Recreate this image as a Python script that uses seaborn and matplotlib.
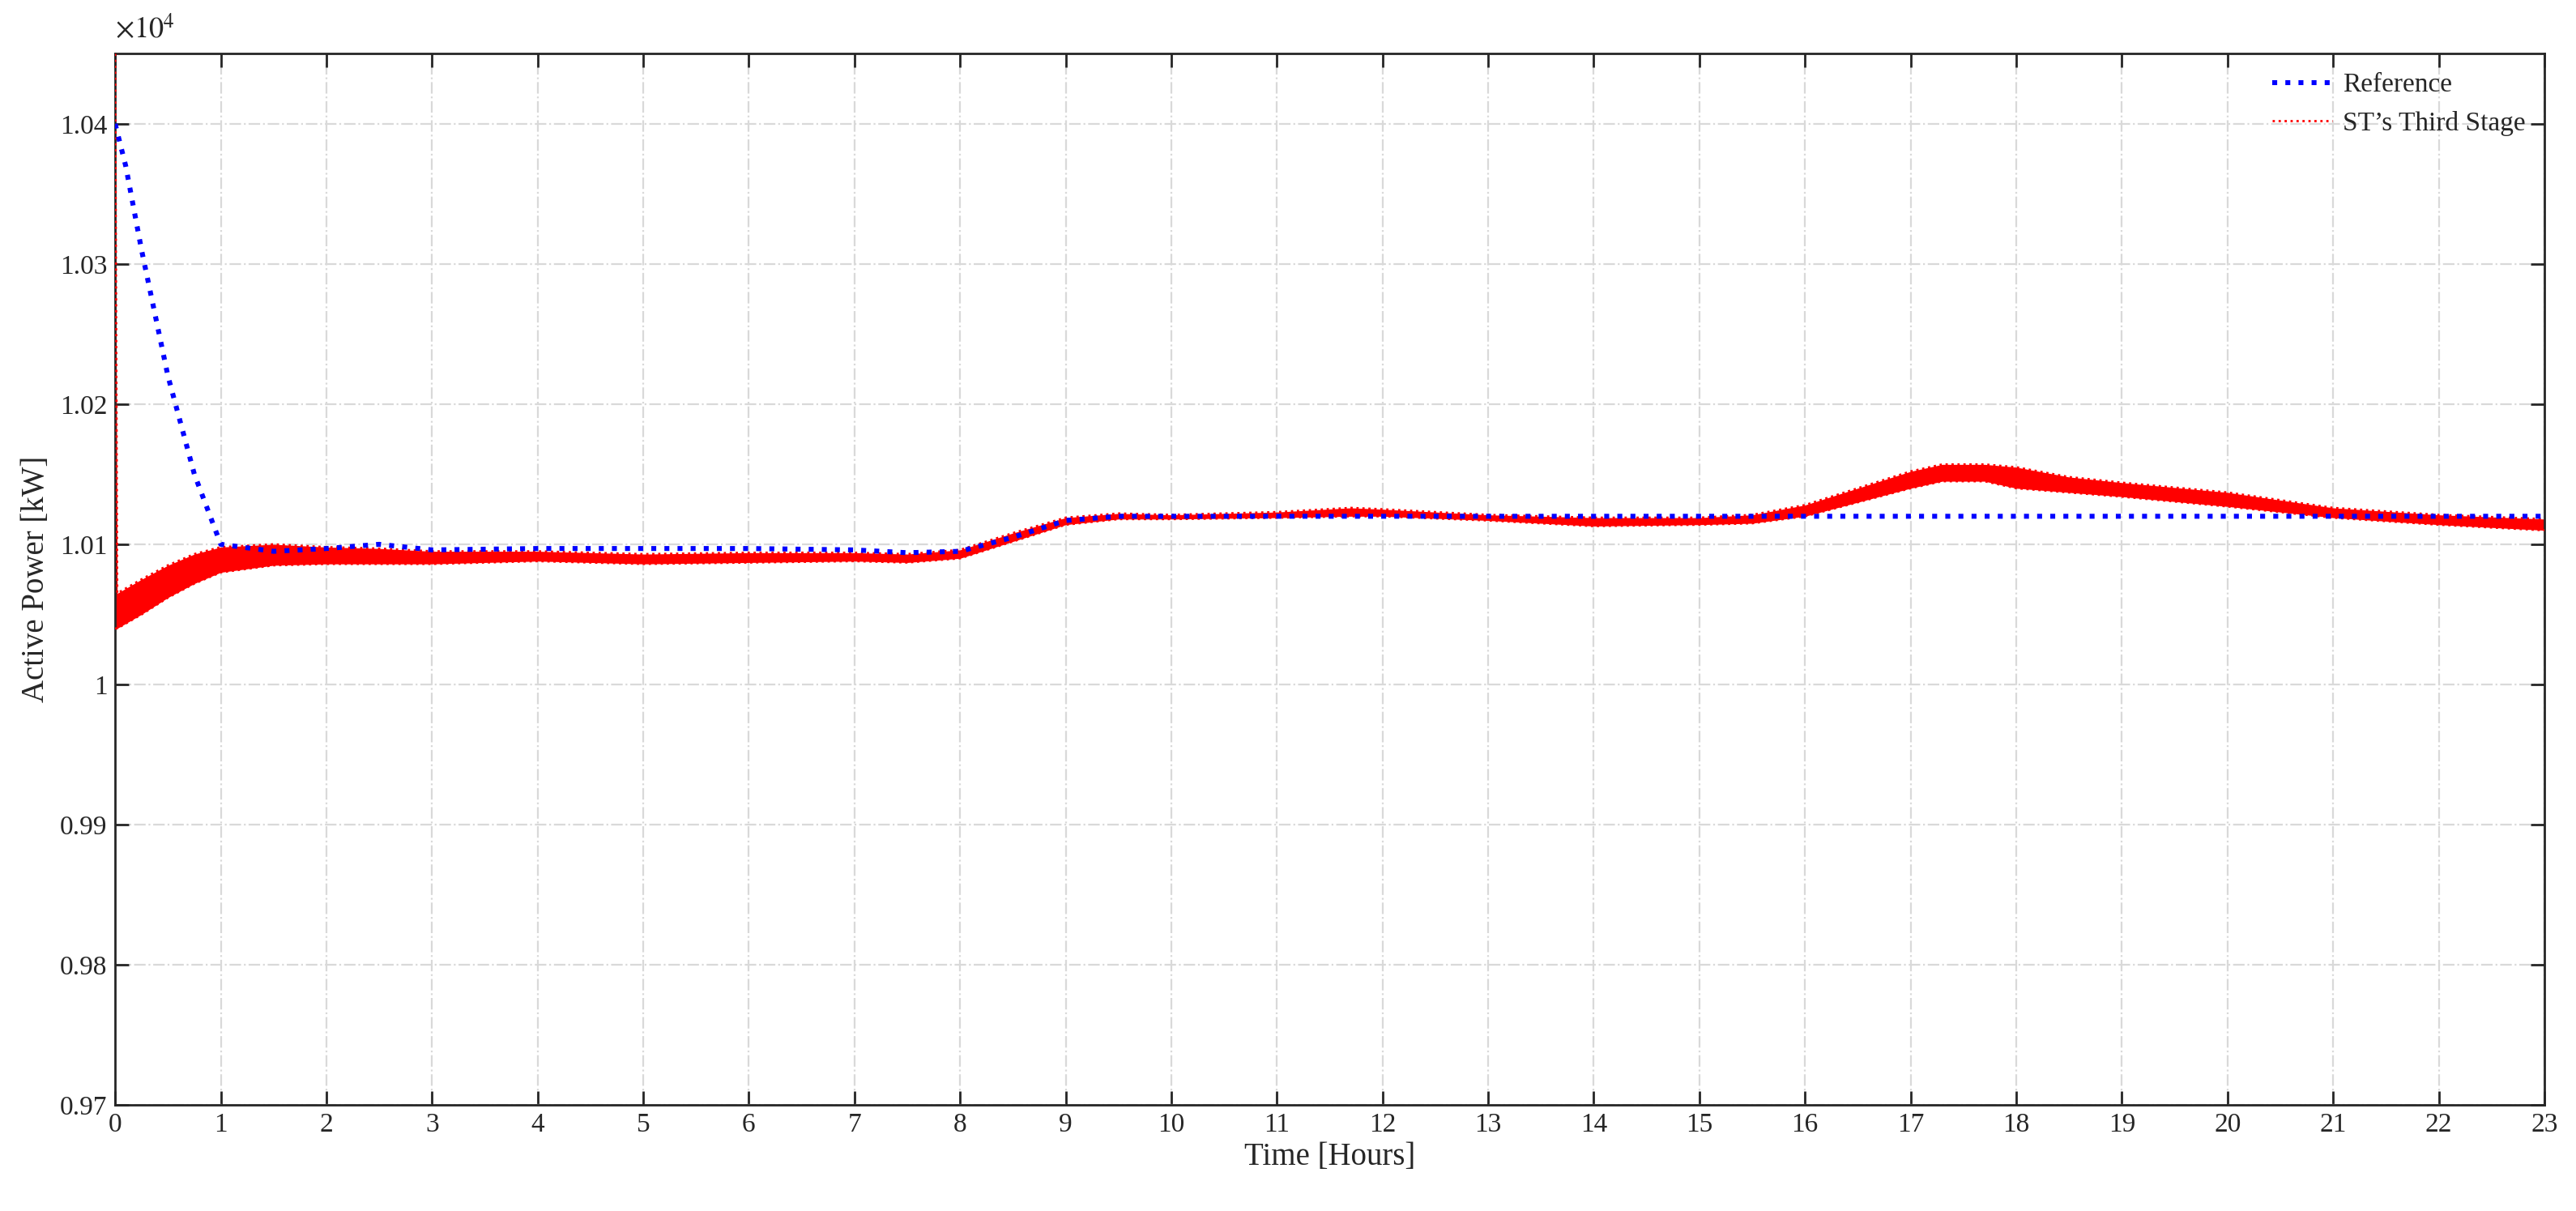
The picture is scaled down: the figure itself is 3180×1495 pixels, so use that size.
import matplotlib
matplotlib.use("Agg")
import matplotlib.pyplot as plt
import pandas as pd
import seaborn as sns

# reference curve
t_ref = [0, 0.1, 0.25, 0.5, 0.75, 1, 1.5, 2, 2.5, 3, 4, 5, 6, 7, 7.5, 8, 8.5, 9, 9.5, 10, 12, 15, 18, 21, 23]
p_ref = [10400, 10370, 10310, 10220, 10150, 10100, 10095, 10097, 10100, 10096, 10097, 10097, 10097, 10096,
         10094, 10095, 10105, 10117, 10120, 10120, 10120, 10120, 10120, 10120, 10120]

# envelope of the ST third stage traces
t_st = [0, 0.02, 0.25, 0.5, 0.75, 1, 1.5, 2, 2.5, 3, 4, 5, 6, 7, 7.5, 8, 8.5, 9, 9.5, 10, 11, 11.7, 12,
        13, 14, 15, 15.5, 16, 16.5, 17, 17.3, 17.7, 18, 18.5, 19, 20, 21, 22, 23]
st_upper = [10450, 10065, 10075, 10085, 10093, 10098, 10100, 10098, 10097, 10095, 10095, 10093, 10094, 10094,
            10093, 10096, 10108, 10119, 10122, 10121, 10123, 10126, 10125, 10121, 10119, 10119, 10121, 10128,
            10140, 10152, 10157, 10157, 10155, 10148, 10144, 10137, 10126, 10121, 10118]
st_lower = [10040, 10040, 10050, 10062, 10072, 10080, 10085, 10086, 10086, 10086, 10088, 10086, 10087, 10088,
            10087, 10090, 10102, 10114, 10118, 10118, 10119, 10120, 10120, 10117, 10113, 10114, 10115, 10120,
            10130, 10140, 10145, 10145, 10140, 10137, 10134, 10127, 10119, 10114, 10110]

sns.set_style("ticks")
plt.rcParams["font.family"] = ["Liberation Serif", "DejaVu Serif"]
plt.rcParams["mathtext.fontset"] = "stix"

fig = plt.figure(figsize=(15.9, 7.475), dpi=200)
ax = fig.add_axes([0.0447, 0.0876, 0.943, 0.868])

st = pd.DataFrame({"t": t_st, "up": st_upper, "lo": st_lower})
ax.fill_between(st["t"], st["lo"], st["up"], color="red", lw=0, zorder=2)
sns.lineplot(data=st, x="t", y="up", ax=ax, color="red", lw=1, ls=":", zorder=3,
             label="ST\u2019s Third Stage")
sns.lineplot(data=st, x="t", y="lo", ax=ax, color="red", lw=1, ls=":", zorder=3)

ref = pd.DataFrame({"t": t_ref, "p": p_ref})
sns.lineplot(data=ref, x="t", y="p", ax=ax, color="blue", lw=2.2, ls=":", zorder=4, label="Reference")

ax.set_xlim(0, 23)
ax.set_ylim(9700, 10450)
ax.set_xticks(range(0, 24))
yt = [9700, 9800, 9900, 10000, 10100, 10200, 10300, 10400]
ax.set_yticks(yt)
ax.set_yticklabels(["%g" % (v / 1e4) for v in yt])
ax.tick_params(direction="in", top=True, right=True, labelsize=12, length=6, width=1)
ax.grid(True, color="#d9d9d9", ls="-.", lw=0.8)
for s in ax.spines.values():
    s.set_linewidth(1)
    s.set_color("#262626")
ax.set_xlabel("Time [Hours]", fontsize=14, labelpad=2)
ax.set_ylabel("Active Power [kW]", fontsize=14, labelpad=4)
ax.text(0, 1.008, r"$\times10^4$", transform=ax.transAxes, fontsize=13, va="bottom")

h, l = ax.get_legend_handles_labels()
ax.legend(h[::-1], l[::-1], loc="upper right", frameon=False, fontsize=12, handlelength=2.2,
          borderaxespad=0.3, handletextpad=0.4)

fig.savefig("out.png", dpi=200)
